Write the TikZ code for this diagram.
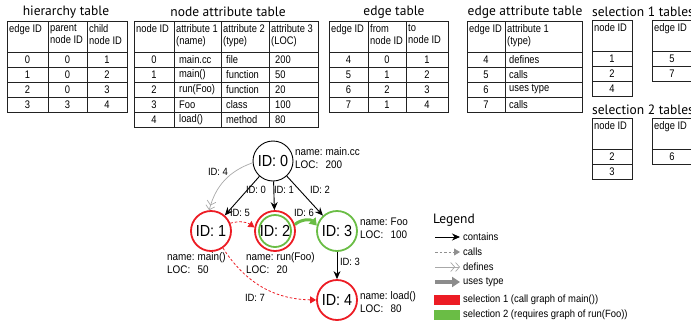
\documentclass[tikz,border=0pt]{standalone}
\usepackage{fontspec}
\setmainfont{Liberation Sans}
\newfontfamily\narrowfont[FakeStretch=0.9]{Liberation Sans}
\newfontfamily\tablefont[FakeStretch=0.85]{Liberation Sans}
\newfontfamily\titlefont{PT Sans}
\usetikzlibrary{arrows.meta}
\definecolor{selred}{HTML}{EC1C24}
\definecolor{selgreen}{HTML}{6ABD45}
\definecolor{defgray}{HTML}{A8A8A8}
\definecolor{callgray}{HTML}{909090}
\definecolor{usegray}{HTML}{8C8C8C}
\definecolor{tline}{HTML}{222222}
\tikzset{
  tbl/.style={draw=tline, line width=0.8pt},
  ttl/.style={font=\titlefont\fontsize{13.5}{15}\selectfont, inner sep=0},
  hdr/.style={font=\tablefont\fontsize{11}{12.5}\selectfont, align=left, anchor=north west, inner sep=0},
  cellc/.style={font=\tablefont\fontsize{11}{12}\selectfont, inner sep=0},
  celll/.style={cellc, anchor=west},
  gnode/.style={circle, minimum size=40pt, inner sep=0, font=\narrowfont\fontsize{16}{18}\selectfont, line width=1.8pt},
  info/.style={font=\narrowfont\fontsize{11}{13}\selectfont, anchor=north west, inner sep=0},
  elab/.style={font=\narrowfont\fontsize{10.5}{12}\selectfont, inner sep=0},
  contains/.style={draw=black, line width=0.9pt, -{Stealth[length=8pt,width=7pt]}},
  defines/.style={draw=defgray, line width=0.7pt, -{Straight Barb[length=4pt,width=9pt] Straight Barb[length=4pt,width=9pt]}},
  calls/.style={draw=selred, line width=0.8pt, dashed, dash pattern=on 2.5pt off 2pt, -{Triangle[length=6pt,width=7pt]}},
  uses/.style={draw=selgreen, line width=3pt, -{Triangle[length=7pt,width=9pt]}},
  lgtext/.style={font=\narrowfont\fontsize{10.5}{12}\selectfont, anchor=west, inner sep=0},
}
\begin{document}
\begin{tikzpicture}[x=1pt,y=-1pt]
\useasboundingbox (0,0) rectangle (691,322);

% ---------- titles
\node[ttl] (t1) at (66,12) {hierarchy table};
\node[ttl] (t2) at (228,12) {node attribute table};
\node[ttl] (t3) at (394,12) {edge table};
\node[ttl] (t4) at (525,12) {edge attribute table};
\node[ttl, anchor=west] (t5) at (592,12) {selection 1 tables};
\node[ttl, anchor=west] (t6) at (592,110) {selection 2 tables};

% ---------- hierarchy table
\draw[tbl] (7,21) rectangle (127,112);
\foreach \x in {48,87} \draw[tbl] (\x,21) -- (\x,112);
\foreach \y in {52,67,82,97} \draw[tbl] (7,\y) -- (127,\y);
\node[hdr] (hh1) at (9,24) {edge ID};
\node[hdr] (hh2) at (50,24) {parent\\node ID};
\node[hdr] (hh3) at (89,24) {child\\node ID};
\foreach \a/\b/\c [count=\i] in {0/0/1,1/0/2,2/0/3,3/3/4}{
  \node[cellc] (ha\i) at (27.5,44.5+15*\i) {\a};
  \node[cellc] (hb\i) at (67.5,44.5+15*\i) {\b};
  \node[cellc] (hc\i) at (107,44.5+15*\i) {\c};
}

% ---------- node attribute table
\draw[tbl] (134,21) rectangle (318,127);
\foreach \x in {174,221,269} \draw[tbl] (\x,21) -- (\x,127);
\foreach \y in {52,67,82,97,112} \draw[tbl] (134,\y) -- (318,\y);
\node[hdr] (nh1) at (136,24) {node ID};
\node[hdr] (nh2) at (176,24) {attribute 1\\(name)};
\node[hdr] (nh3) at (223,24) {attribute 2\\(type)};
\node[hdr] (nh4) at (271,24) {attribute 3\\(LOC)};
\foreach \a/\b/\c/\d [count=\i] in {0/main.cc/file/200,1/main()/function/50,2/run(Foo)/function/20,3/Foo/class/100,4/load()/method/80}{
  \node[cellc] (na\i) at (154,44.5+15*\i) {\a};
  \node[celll] (nb\i) at (179,44.5+15*\i) {\b};
  \node[celll] (nc\i) at (226,44.5+15*\i) {\c};
  \node[celll] (nd\i) at (275,44.5+15*\i) {\d};
}

% ---------- edge table
\draw[tbl] (329,21) rectangle (448,112);
\foreach \x in {368,406} \draw[tbl] (\x,21) -- (\x,112);
\foreach \y in {52,67,82,97} \draw[tbl] (329,\y) -- (448,\y);
\node[hdr] (eh1) at (331,24) {edge ID};
\node[hdr] (eh2) at (370,24) {from\\node ID};
\node[hdr] (eh3) at (408,24) {to\\node ID};
\foreach \a/\b/\c [count=\i] in {4/0/1,5/1/2,6/2/3,7/1/4}{
  \node[cellc] (ea\i) at (348.5,44.5+15*\i) {\a};
  \node[cellc] (eb\i) at (387,44.5+15*\i) {\b};
  \node[cellc] (ec\i) at (427,44.5+15*\i) {\c};
}

% ---------- edge attribute table
\draw[tbl] (467,21) rectangle (582,112);
\draw[tbl] (505,21) -- (505,112);
\foreach \y in {52,67,82,97} \draw[tbl] (467,\y) -- (582,\y);
\node[hdr] (ah1) at (469,24) {edge ID};
\node[hdr] (ah2) at (507,24) {attribute 1\\(type)};
\foreach \a/\b [count=\i] in {4/defines,5/calls,6/uses type,7/calls}{
  \node[cellc] (aa\i) at (486,44.5+15*\i) {\a};
  \node[celll] (ab\i) at (509,44.5+15*\i) {\b};
}

% ---------- selection 1 tables
\draw[tbl] (592,20) rectangle (632,96);
\foreach \y in {51,66,81} \draw[tbl] (592,\y) -- (632,\y);
\node[hdr] (s1h1) at (594,23) {node ID};
\foreach \a [count=\i] in {1,2,4} \node[cellc] (s1a\i) at (612,43.5+15*\i) {\a};
\draw[tbl] (652,20) rectangle (700,81);
\foreach \y in {51,66} \draw[tbl] (652,\y) -- (700,\y);
\node[hdr] (s1h2) at (654,23) {edge ID};
\foreach \a [count=\i] in {5,7} \node[cellc] (s1b\i) at (672,43.5+15*\i) {\a};

% ---------- selection 2 tables
\draw[tbl] (592,118) rectangle (632,179);
\foreach \y in {149,164} \draw[tbl] (592,\y) -- (632,\y);
\node[hdr] (s2h1) at (594,121) {node ID};
\foreach \a [count=\i] in {2,3} \node[cellc] (s2a\i) at (612,141.5+15*\i) {\a};
\draw[tbl] (652,118) rectangle (700,164);
\draw[tbl] (652,149) -- (700,149);
\node[hdr] (s2h2) at (654,121) {edge ID};
\node[cellc] (s2b1) at (672,156.5) {6};

% ---------- graph nodes
\node[gnode, draw=black, line width=0.9pt] (n0) at (273,161) {ID: 0};
\node[gnode, draw=selred] (n1) at (211,231) {ID: 1};
\node[gnode, draw=selred] (n2) at (275,231) {};
\draw[selgreen, line width=1.8pt] (n2.center) circle (16);
\node[font=\narrowfont\fontsize{16}{18}\selectfont, inner sep=0] (n2t) at (n2.center) {ID: 2};
\node[gnode, draw=selgreen] (n3) at (337,231) {ID: 3};
\node[gnode, draw=selred] (n4) at (337,300) {ID: 4};

% ---------- node info
\node[info] (i0) at (295,146) {\begin{tabular}{@{}l@{\hspace{3pt}}l@{}}name: & main.cc\\ LOC: & 200\end{tabular}};
\node[info] (i3) at (360,216) {\begin{tabular}{@{}l@{\hspace{3pt}}l@{}}name: & Foo\\ LOC: & 100\end{tabular}};
\node[info] (i1) at (167,251) {\begin{tabular}{@{}l@{\hspace{3pt}}l@{}}name: & main()\\ LOC: & 50\end{tabular}};
\node[info] (i2) at (246,251) {\begin{tabular}{@{}l@{\hspace{3pt}}l@{}}name: & run(Foo)\\ LOC: & 20\end{tabular}};
\node[info] (i4) at (360,290) {\begin{tabular}{@{}l@{\hspace{3pt}}l@{}}name: & load()\\ LOC: & 80\end{tabular}};

% ---------- edges
\draw[contains] (n0) -- (n1);
\draw[contains] (n0) -- (n2);
\draw[contains] (n0) -- (n3);
\draw[contains] (n3) -- (n4);
\draw[defines] (n0.185) to[bend right=28] (n1.95);
\draw[calls] (n1.22) to[bend left=25] (n2.170);
\draw[calls] (n1.-55) to[bend right=28] (n4.180);
\draw[uses] (n2.18) to[bend left=45] (n3.165);

% ---------- edge labels
\node[elab] (l4) at (218,172) {ID: 4};
\node[elab] (l0) at (256,190) {ID: 0};
\node[elab] (l1) at (284,190) {ID: 1};
\node[elab] (l2) at (320,190) {ID: 2};
\node[elab] (l5) at (240,213) {ID: 5};
\node[elab] (l6) at (304,213) {ID: 6};
\node[elab] (l3) at (350,262) {ID: 3};
\node[elab] (l7) at (255,298) {ID: 7};

% ---------- legend
\node[ttl, anchor=west] (lg) at (433,220) {Legend};
\coordinate (la) at (435,237); \coordinate (lb) at (460,237);
\coordinate (ma) at (435,252); \coordinate (mb) at (460,252);
\coordinate (da) at (435,267); \coordinate (db) at (460,267);
\coordinate (ua) at (435,282); \coordinate (ub) at (460,282);
\draw[contains] (la) -- (lb);
\draw[calls, draw=callgray] (ma) -- (mb);
\draw[defines] (da) -- (db);
\draw[draw=usegray, line width=3.2pt, -{Triangle[length=8pt,width=10pt]}] (ua) -- (ub);
\node[lgtext] (lt1) at (463,237) {contains};
\node[lgtext] (lt2) at (463,252) {calls};
\node[lgtext] (lt3) at (463,267) {defines};
\node[lgtext] (lt4) at (463,282) {uses type};
\node[fill=selred, minimum width=26pt, minimum height=10pt, inner sep=0] (r1) at (447,299.5) {};
\node[fill=selgreen, minimum width=26pt, minimum height=10pt, inner sep=0] (r2) at (447,314.5) {};
\node[lgtext] (lt5) at (463,299.5) {selection 1 (call graph of main())};
\node[lgtext] (lt6) at (463,314.5) {selection 2 (requires graph of run(Foo))};
\end{tikzpicture}
\end{document}
